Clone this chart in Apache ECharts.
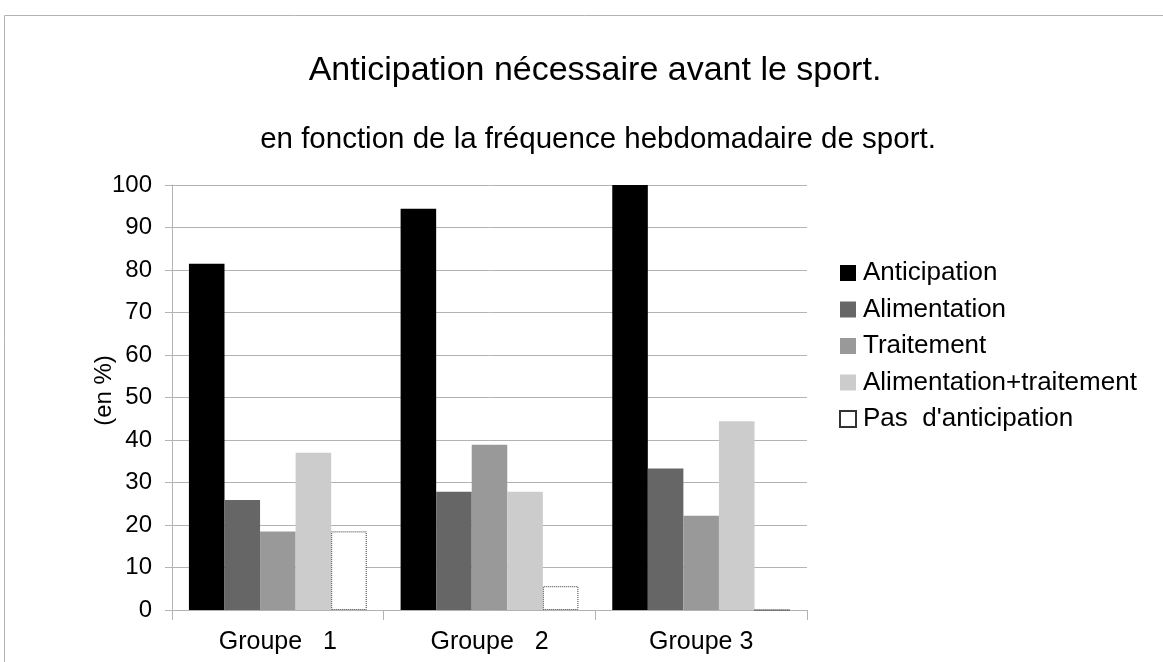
<!DOCTYPE html>
<html>
<head>
<meta charset="utf-8">
<script src="https://cdn.jsdelivr.net/npm/echarts@6/dist/echarts.min.js"></script>
<style>
  html, body { margin: 0; padding: 0; background: #fff; }
  #chart { width: 1163px; height: 662px; }
</style>
</head>
<body>
<div id="chart"></div>
<script>
  var groups = ["Groupe   1", "Groupe   2", "Groupe 3"];
  var anticipation = [81.5, 94.4, 100];
  var alimentation = [25.9, 27.8, 33.3];
  var traitement = [18.5, 38.9, 22.2];
  var alimTraitement = [37.0, 27.8, 44.4];
  var pasAnticipation = [18.5, 5.6, 0];
  var yTicks = [0, 10, 20, 30, 40, 50, 60, 70, 80, 90, 100];

  var font = "'Liberation Sans', Arial, sans-serif";

  function bar(name, data, color, dotted) {
    var s = {
      name: name,
      type: 'bar',
      barGap: 0,
      barCategoryGap: '16%',
      data: data,
      itemStyle: { color: color }
    };
    if (dotted) {
      s.itemStyle = { color: '#ffffff', borderColor: '#333333', borderWidth: 1, borderType: 'dotted' };
    }
    return s;
  }

  var myChart = echarts.init(document.getElementById('chart'));
  myChart.setOption({
    animation: false,
    textStyle: { fontFamily: font },
    graphic: [{
      type: 'rect',
      shape: { x: 4.5, y: 15.5, width: 1170, height: 660 },
      style: { fill: 'none', stroke: '#b3b3b3', lineWidth: 1 },
      silent: true
    }],
    title: [{
      text: 'Anticipation nécessaire avant le sport.',
      left: 590, top: 49, textAlign: 'center',
      textStyle: { fontFamily: font, fontSize: 34, fontWeight: 'normal', color: '#000' }
    }, {
      text: 'en fonction de la fréquence hebdomadaire de sport.',
      left: 593, top: 120, textAlign: 'center',
      textStyle: { fontFamily: font, fontSize: 29.5, fontWeight: 'normal', color: '#000' }
    }],
    legend: {
      orient: 'vertical',
      left: 834, top: 255,
      itemWidth: 16, itemHeight: 16,
      itemGap: 10.5,
      icon: 'rect',
      textStyle: { fontFamily: font, fontSize: 26, color: '#000', lineHeight: 25, padding: [0, 0, 0, 2] }
    },
    grid: { left: 172, right: 356, top: 185, bottom: 52 },
    xAxis: {
      type: 'category',
      data: groups,
      axisLine: { lineStyle: { color: '#b3b3b3' } },
      axisTick: { show: true, length: 10, lineStyle: { color: '#b3b3b3' } },
      axisLabel: { color: '#000', fontSize: 25, fontFamily: font, margin: 20 }
    },
    yAxis: {
      type: 'value',
      min: yTicks[0], max: yTicks[yTicks.length - 1], interval: 10,
      name: '(en %)',
      nameLocation: 'middle',
      nameRotate: 90,
      nameGap: 56,
      nameMoveOverlap: false,
      nameTextStyle: { color: '#000', fontSize: 24, fontFamily: font, padding: [0, 0, 0, 14] },
      axisLine: { show: true, lineStyle: { color: '#b3b3b3' } },
      axisTick: { show: true, length: 7, lineStyle: { color: '#b3b3b3' } },
      axisLabel: { color: '#000', fontSize: 24, fontFamily: font, margin: 20 },
      splitLine: { lineStyle: { color: '#b3b3b3' } }
    },
    series: [
      bar('Anticipation', anticipation, '#000000'),
      bar('Alimentation', alimentation, '#666666'),
      bar('Traitement', traitement, '#999999'),
      bar('Alimentation+traitement', alimTraitement, '#cccccc'),
      bar("Pas  d'anticipation", pasAnticipation, '#ffffff', true)
    ]
  });
</script>
</body>
</html>
